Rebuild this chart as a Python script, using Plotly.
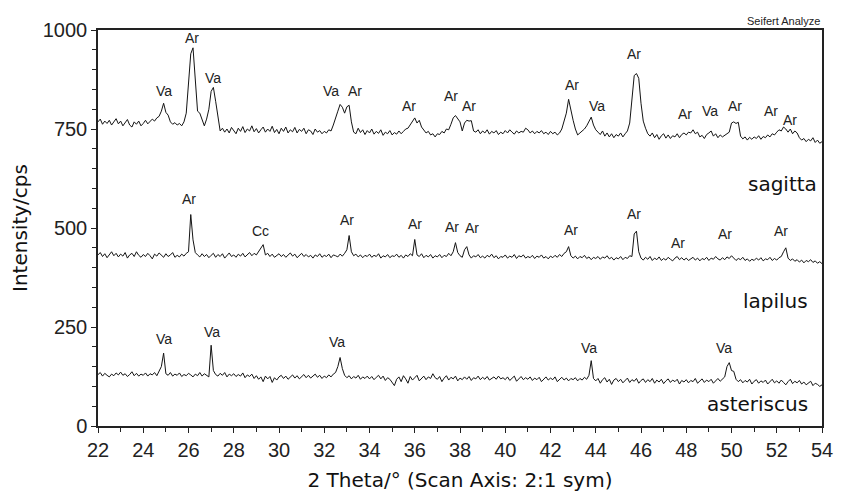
import numpy as np
import plotly.graph_objects as go

# 2-theta grid: 22.0 .. 54.0 in 0.1 deg steps (rows below are one degree each)
TWO_THETA_START = 22.0
TWO_THETA_STEP = 0.1

sagitta = [
    768,775,762,770,764,772,760,768,776,763,
    770,758,766,774,760,755,768,762,770,758,
    764,772,763,768,775,770,778,782,795,815,
    792,785,768,762,766,760,764,758,768,790,
    860,940,955,880,795,790,772,758,775,800,
    845,855,820,775,745,752,742,750,740,754,
    746,738,752,744,756,741,750,745,758,743,
    751,740,748,755,742,750,744,757,741,749,
    738,752,744,755,740,748,743,754,740,749,
    744,752,738,748,745,736,750,742,746,738,
    744,740,748,745,760,775,795,812,805,790,
    806,810,768,742,738,752,741,748,736,746,
    740,750,737,744,739,748,734,742,738,746,
    735,741,737,745,738,744,750,752,760,770,
    778,765,772,755,748,740,744,735,738,730,
    738,736,744,740,750,748,762,778,784,775,
    768,745,765,772,770,771,745,742,748,738,
    745,740,748,737,744,740,746,736,742,738,
    746,740,748,742,737,745,740,744,742,752,
    748,740,745,738,744,740,746,738,742,736,
    744,738,742,735,740,750,768,790,825,795,
    772,750,735,740,745,750,758,770,780,760,
    748,742,736,745,732,740,730,738,728,736,
    732,740,730,738,745,765,830,885,890,878,
    815,770,752,738,732,740,728,736,724,733,
    738,727,735,726,733,730,738,728,736,740,
    735,742,740,748,738,742,730,734,726,736,
    740,745,732,738,728,735,730,734,738,742,
    765,768,764,767,732,725,730,722,729,724,
    730,726,733,724,731,728,735,730,738,735,
    742,748,745,755,750,742,750,738,745,740,
    728,722,726,718,724,720,728,716,722,714,
    718,
]

lapilus = [
    432,438,428,435,425,433,440,430,436,427,
    434,429,438,424,432,436,428,440,431,426,
    433,428,436,430,422,434,429,437,431,426,
    435,428,432,438,426,431,427,434,429,436,
    440,534,470,438,432,427,435,428,433,425,
    431,436,426,433,428,435,424,431,437,428,
    432,426,434,429,436,427,433,438,430,436,
    432,440,450,458,432,436,428,434,426,431,
    435,428,433,426,432,437,429,434,425,430,
    436,428,433,427,431,424,432,428,435,426,
    431,428,434,425,432,430,427,434,429,436,
    445,481,440,430,434,427,432,425,431,428,
    434,426,431,428,435,424,430,427,433,425,
    430,428,434,426,431,424,432,428,435,430,
    471,432,428,435,425,431,427,433,424,430,
    427,433,425,431,428,436,430,440,463,438,
    430,426,445,453,432,424,430,427,433,425,
    429,424,431,427,434,425,430,422,428,426,
    432,424,429,426,433,423,430,427,432,424,
    428,425,431,423,429,426,432,424,428,422,
    429,425,431,426,433,428,436,440,453,430,
    424,429,422,428,425,431,423,427,420,426,
    423,428,421,427,424,430,422,426,419,425,
    422,428,420,426,423,430,428,485,492,440,
    424,419,426,421,428,418,424,420,427,418,
    423,419,426,421,417,424,428,420,425,419,
    424,418,422,426,419,424,417,423,420,426,
    418,424,421,428,422,419,425,420,427,423,
    430,424,418,423,420,426,418,422,416,421,
    418,424,419,425,417,422,420,426,418,423,
    419,425,428,440,450,424,418,422,416,420,
    414,419,412,418,415,420,413,417,411,415,
    410,
]

asteriscus = [
    130,135,126,133,128,124,131,127,134,129,
    136,128,132,125,130,137,127,133,126,131,
    128,134,126,132,129,135,127,140,150,184,
    132,128,135,126,131,128,134,125,130,127,
    133,129,124,131,127,135,126,132,128,124,
    204,140,130,126,133,128,135,124,131,127,
    132,125,130,126,134,122,129,125,131,120,
    127,118,124,112,126,119,125,110,122,116,
    124,128,120,126,118,124,129,121,127,119,
    125,130,122,128,121,126,131,123,128,120,
    126,122,129,124,131,135,150,173,145,128,
    122,127,119,125,121,128,118,124,120,126,
    119,125,117,123,128,119,126,115,122,118,
    110,102,118,124,112,127,119,108,125,116,
    122,128,114,121,126,117,124,120,132,122,
    118,125,112,121,127,116,123,119,126,114,
    121,117,124,118,125,115,122,119,126,117,
    123,118,125,116,121,124,118,126,119,122,
    117,124,115,121,126,113,120,125,117,122,
    118,124,115,121,117,123,112,119,124,116,
    121,117,124,112,119,123,116,121,114,120,
    117,122,114,120,116,123,118,128,165,120,
    114,120,108,117,122,111,118,105,116,120,
    112,118,109,116,121,110,117,113,120,108,
    115,119,110,117,112,120,108,116,111,118,
    107,114,119,110,116,112,118,106,115,111,
    117,109,115,112,120,108,114,119,110,116,
    112,118,108,115,120,113,118,124,150,160,
    140,138,118,112,117,109,115,111,118,106,
    113,117,108,114,110,116,106,112,118,109,
    114,108,116,110,104,112,118,107,113,109,
    115,106,111,104,109,113,102,108,105,100,
    104,
]

# peak labels: text, 2theta, intensity
sagitta_labels_text = ["Va", "Ar", "Va", "Va", "Ar", "Ar", "Ar", "Ar", "Ar", "Va", "Ar", "Ar", "Va", "Ar", "Ar", "Ar"]
sagitta_labels_x = [24.9, 26.15, 27.1, 32.3, 33.35, 35.75, 37.6, 38.4, 42.95, 44.05, 45.7, 47.95, 49.05, 50.15, 51.75, 52.6]
sagitta_labels_y = [845, 980, 880, 845, 845, 808, 834, 808, 862, 808, 940, 787, 795, 808, 795, 772]

lapilus_labels_text = ["Ar", "Cc", "Ar", "Ar", "Ar", "Ar", "Ar", "Ar", "Ar", "Ar", "Ar"]
lapilus_labels_x = [26.0, 29.2, 33.0, 36.0, 37.65, 38.55, 42.9, 45.7, 47.65, 49.7, 52.2]
lapilus_labels_y = [572, 492, 520, 511, 503, 500, 494, 536, 463, 484, 492]

asteriscus_labels_text = ["Va", "Va", "Va", "Va", "Va"]
asteriscus_labels_x = [24.9, 27.05, 32.55, 43.7, 49.65]
asteriscus_labels_y = [219, 238, 211, 196, 198]

sample_names = ["sagitta", "lapilus", "asteriscus"]
sample_name_x = [53.85, 53.45, 53.45]
sample_name_y = [610, 315, 55]

y_ticks = [0, 250, 500, 750, 1000]
x_ticks = list(range(22, 55, 2))

n = len(sagitta)
two_theta = np.round(TWO_THETA_START + TWO_THETA_STEP * np.arange(n), 2)
assert len(lapilus) == n and len(asteriscus) == n

fig = go.Figure()
for name, ys in [("sagitta", sagitta), ("lapilus", lapilus), ("asteriscus", asteriscus)]:
    fig.add_trace(go.Scatter(x=two_theta, y=ys, mode="lines", name=name,
                             line=dict(color="#141414", width=1), showlegend=False))

arial = "Liberation Sans, Arial, sans-serif"
comic = "DejaVu Sans, Noto Sans, sans-serif"
label_font = dict(family=arial, size=14, color="#222")
ann = []
for texts, xs, ys in [(sagitta_labels_text, sagitta_labels_x, sagitta_labels_y),
                      (lapilus_labels_text, lapilus_labels_x, lapilus_labels_y),
                      (asteriscus_labels_text, asteriscus_labels_x, asteriscus_labels_y)]:
    for t, xv, yv in zip(texts, xs, ys):
        ann.append(dict(x=xv, y=yv, xref="x", yref="y", text=t, showarrow=False,
                        font=label_font, xanchor="center", yanchor="middle"))

for t, xv, yv in zip(sample_names, sample_name_x, sample_name_y):
    ann.append(dict(x=xv, y=yv, xref="x", yref="y", text=t, showarrow=False,
                    font=dict(family=comic, size=20, color="#111"),
                    xanchor="right", yanchor="middle"))

ann.append(dict(x=1, y=1, xref="paper", yref="paper", text="Seifert Analyze",
                showarrow=False, xanchor="right", yanchor="bottom", yshift=1,
                font=dict(family=arial, size=11, color="#222")))

# page body has an 8px default margin; figure sized/margined so the plot
# area lands at the same place as in the reference
fig.update_layout(
    width=836, height=491,
    margin=dict(l=88, r=11, t=22, b=72),
    paper_bgcolor="white", plot_bgcolor="white",
    annotations=ann,
    xaxis=dict(range=[22, 54], tickvals=x_ticks, ticks="outside", ticklen=5,
               tickwidth=1, tickcolor="#222", showline=True, linecolor="#222",
               linewidth=1.5, mirror=True, showgrid=False, zeroline=False,
               minor=dict(dtick=1, ticks="outside", ticklen=4, tickcolor="#222", showgrid=False),
               tickfont=dict(family=arial, size=20, color="#222"),
               title=dict(text="2 Theta/° (Scan Axis: 2:1 sym)",
                          font=dict(family=comic, size=20, color="#111"), standoff=13)),
    yaxis=dict(range=[0, 1000], tickvals=y_ticks, ticks="outside", ticklen=5,
               tickwidth=1, tickcolor="#222", showline=True, linecolor="#222",
               linewidth=1.5, mirror=True, showgrid=False, zeroline=False,
               minor=dict(dtick=50, ticks="outside", ticklen=4, tickcolor="#222", showgrid=False),
               tickfont=dict(family=arial, size=20, color="#222"),
               title=dict(text="Intensity/cps",
                          font=dict(family=comic, size=20, color="#111"), standoff=10)),
)

fig.write_html("out.html")
